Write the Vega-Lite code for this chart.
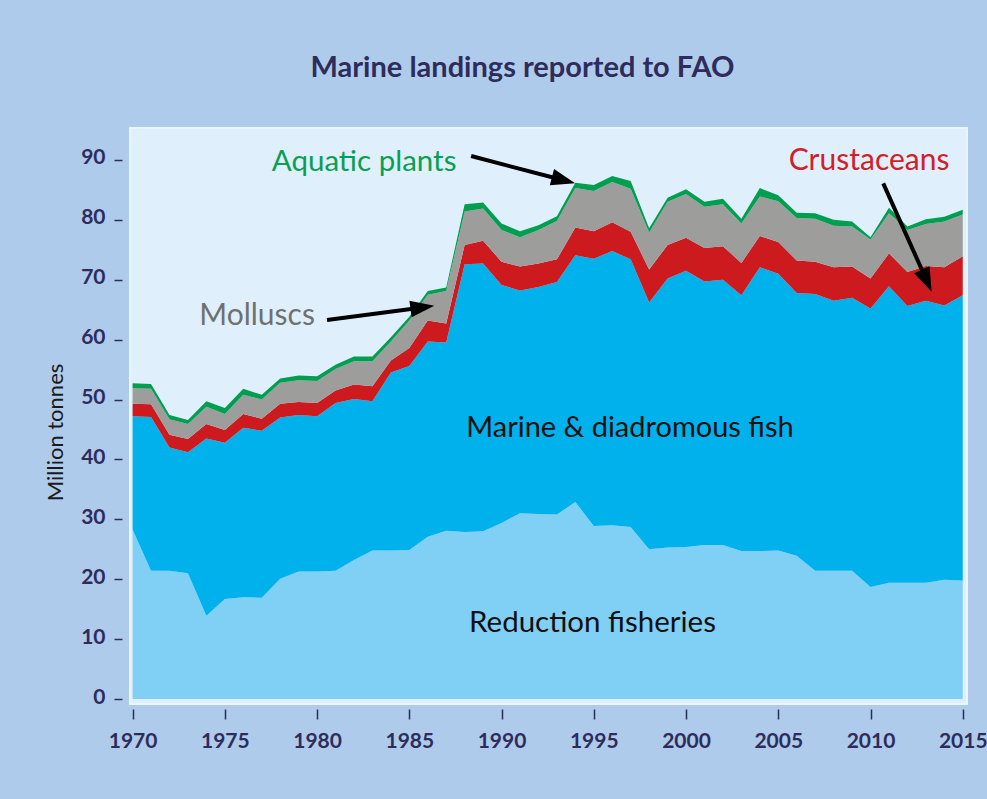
{
  "$schema": "https://vega.github.io/schema/vega-lite/v6.json",
  "width": 837,
  "height": 576,
  "autosize": {"type": "none"},
  "padding": {"left": 130, "top": 128, "right": 20, "bottom": 95},
  "background": "#afcbeb",
  "title": {
    "text": "Marine landings reported to FAO",
    "font": "Lato",
    "fontSize": 29,
    "fontWeight": "bold",
    "color": "#2e2c5b",
    "offset": 45,
    "dx": -26,
    "anchor": "middle"
  },
  "config": {
    "view": {"fill": "#dff0fc", "stroke": "#e9f6fd", "strokeWidth": 2},
    "axis": {"grid": false, "domain": false}
  },
  "layer": [
    {
      "data": {
        "values": [
          {"year": 1970, "Reduction fisheries": 28.3, "Marine & diadromous fish": 18.9, "Crustaceans": 2.1, "Molluscs": 2.6, "Aquatic plants": 0.8},
          {"year": 1971, "Reduction fisheries": 21.4, "Marine & diadromous fish": 25.7, "Crustaceans": 2.1, "Molluscs": 2.6, "Aquatic plants": 0.8},
          {"year": 1972, "Reduction fisheries": 21.4, "Marine & diadromous fish": 20.6, "Crustaceans": 2.1, "Molluscs": 2.6, "Aquatic plants": 0.7},
          {"year": 1973, "Reduction fisheries": 21.0, "Marine & diadromous fish": 20.2, "Crustaceans": 2.2, "Molluscs": 2.5, "Aquatic plants": 0.7},
          {"year": 1974, "Reduction fisheries": 13.9, "Marine & diadromous fish": 29.6, "Crustaceans": 2.4, "Molluscs": 2.9, "Aquatic plants": 0.9},
          {"year": 1975, "Reduction fisheries": 16.7, "Marine & diadromous fish": 26.1, "Crustaceans": 2.1, "Molluscs": 2.7, "Aquatic plants": 1.0},
          {"year": 1976, "Reduction fisheries": 17.0, "Marine & diadromous fish": 28.3, "Crustaceans": 2.3, "Molluscs": 3.2, "Aquatic plants": 1.0},
          {"year": 1977, "Reduction fisheries": 16.9, "Marine & diadromous fish": 27.9, "Crustaceans": 2.0, "Molluscs": 3.2, "Aquatic plants": 0.8},
          {"year": 1978, "Reduction fisheries": 20.1, "Marine & diadromous fish": 26.9, "Crustaceans": 2.3, "Molluscs": 3.5, "Aquatic plants": 0.7},
          {"year": 1979, "Reduction fisheries": 21.3, "Marine & diadromous fish": 26.1, "Crustaceans": 2.2, "Molluscs": 3.6, "Aquatic plants": 0.8},
          {"year": 1980, "Reduction fisheries": 21.3, "Marine & diadromous fish": 25.9, "Crustaceans": 2.2, "Molluscs": 3.7, "Aquatic plants": 0.8},
          {"year": 1981, "Reduction fisheries": 21.4, "Marine & diadromous fish": 28.0, "Crustaceans": 2.1, "Molluscs": 3.6, "Aquatic plants": 0.7},
          {"year": 1982, "Reduction fisheries": 23.2, "Marine & diadromous fish": 26.9, "Crustaceans": 2.4, "Molluscs": 3.9, "Aquatic plants": 0.8},
          {"year": 1983, "Reduction fisheries": 24.8, "Marine & diadromous fish": 24.9, "Crustaceans": 2.5, "Molluscs": 4.2, "Aquatic plants": 0.8},
          {"year": 1984, "Reduction fisheries": 24.8, "Marine & diadromous fish": 29.7, "Crustaceans": 2.0, "Molluscs": 3.2, "Aquatic plants": 0.7},
          {"year": 1985, "Reduction fisheries": 24.9, "Marine & diadromous fish": 30.7, "Crustaceans": 3.0, "Molluscs": 4.6, "Aquatic plants": 0.6},
          {"year": 1986, "Reduction fisheries": 27.1, "Marine & diadromous fish": 32.6, "Crustaceans": 3.5, "Molluscs": 4.3, "Aquatic plants": 0.6},
          {"year": 1987, "Reduction fisheries": 28.1, "Marine & diadromous fish": 31.4, "Crustaceans": 3.2, "Molluscs": 5.4, "Aquatic plants": 0.6},
          {"year": 1988, "Reduction fisheries": 27.9, "Marine & diadromous fish": 44.7, "Crustaceans": 3.2, "Molluscs": 5.6, "Aquatic plants": 1.2},
          {"year": 1989, "Reduction fisheries": 28.0, "Marine & diadromous fish": 44.7, "Crustaceans": 3.8, "Molluscs": 5.4, "Aquatic plants": 1.0},
          {"year": 1990, "Reduction fisheries": 29.4, "Marine & diadromous fish": 39.7, "Crustaceans": 3.9, "Molluscs": 5.3, "Aquatic plants": 1.1},
          {"year": 1991, "Reduction fisheries": 31.0, "Marine & diadromous fish": 37.2, "Crustaceans": 4.0, "Molluscs": 4.9, "Aquatic plants": 1.0},
          {"year": 1992, "Reduction fisheries": 30.9, "Marine & diadromous fish": 37.9, "Crustaceans": 3.9, "Molluscs": 5.6, "Aquatic plants": 0.8},
          {"year": 1993, "Reduction fisheries": 30.8, "Marine & diadromous fish": 38.8, "Crustaceans": 3.8, "Molluscs": 6.4, "Aquatic plants": 0.8},
          {"year": 1994, "Reduction fisheries": 32.9, "Marine & diadromous fish": 41.2, "Crustaceans": 4.6, "Molluscs": 6.6, "Aquatic plants": 0.9},
          {"year": 1995, "Reduction fisheries": 28.9, "Marine & diadromous fish": 44.6, "Crustaceans": 4.6, "Molluscs": 6.7, "Aquatic plants": 1.0},
          {"year": 1996, "Reduction fisheries": 29.0, "Marine & diadromous fish": 45.8, "Crustaceans": 4.8, "Molluscs": 6.7, "Aquatic plants": 1.0},
          {"year": 1997, "Reduction fisheries": 28.7, "Marine & diadromous fish": 44.7, "Crustaceans": 4.6, "Molluscs": 7.2, "Aquatic plants": 1.3},
          {"year": 1998, "Reduction fisheries": 25.0, "Marine & diadromous fish": 41.2, "Crustaceans": 5.5, "Molluscs": 6.2, "Aquatic plants": 0.7},
          {"year": 1999, "Reduction fisheries": 25.3, "Marine & diadromous fish": 44.9, "Crustaceans": 5.6, "Molluscs": 7.2, "Aquatic plants": 0.7},
          {"year": 2000, "Reduction fisheries": 25.4, "Marine & diadromous fish": 46.1, "Crustaceans": 5.5, "Molluscs": 7.3, "Aquatic plants": 0.8},
          {"year": 2001, "Reduction fisheries": 25.7, "Marine & diadromous fish": 44.0, "Crustaceans": 5.6, "Molluscs": 6.9, "Aquatic plants": 0.8},
          {"year": 2002, "Reduction fisheries": 25.7, "Marine & diadromous fish": 44.3, "Crustaceans": 5.6, "Molluscs": 7.0, "Aquatic plants": 0.9},
          {"year": 2003, "Reduction fisheries": 24.7, "Marine & diadromous fish": 42.7, "Crustaceans": 5.4, "Molluscs": 6.6, "Aquatic plants": 0.8},
          {"year": 2004, "Reduction fisheries": 24.7, "Marine & diadromous fish": 47.4, "Crustaceans": 5.2, "Molluscs": 6.6, "Aquatic plants": 1.4},
          {"year": 2005, "Reduction fisheries": 24.8, "Marine & diadromous fish": 46.2, "Crustaceans": 5.3, "Molluscs": 6.8, "Aquatic plants": 1.0},
          {"year": 2006, "Reduction fisheries": 23.9, "Marine & diadromous fish": 43.9, "Crustaceans": 5.4, "Molluscs": 7.1, "Aquatic plants": 0.9},
          {"year": 2007, "Reduction fisheries": 21.4, "Marine & diadromous fish": 46.2, "Crustaceans": 5.4, "Molluscs": 7.2, "Aquatic plants": 0.9},
          {"year": 2008, "Reduction fisheries": 21.4, "Marine & diadromous fish": 45.1, "Crustaceans": 5.6, "Molluscs": 6.9, "Aquatic plants": 1.0},
          {"year": 2009, "Reduction fisheries": 21.4, "Marine & diadromous fish": 45.6, "Crustaceans": 5.2, "Molluscs": 6.7, "Aquatic plants": 0.8},
          {"year": 2010, "Reduction fisheries": 18.7, "Marine & diadromous fish": 46.5, "Crustaceans": 5.0, "Molluscs": 6.5, "Aquatic plants": 0.4},
          {"year": 2011, "Reduction fisheries": 19.4, "Marine & diadromous fish": 49.5, "Crustaceans": 5.5, "Molluscs": 6.7, "Aquatic plants": 0.9},
          {"year": 2012, "Reduction fisheries": 19.4, "Marine & diadromous fish": 46.2, "Crustaceans": 5.7, "Molluscs": 7.0, "Aquatic plants": 0.6},
          {"year": 2013, "Reduction fisheries": 19.4, "Marine & diadromous fish": 47.1, "Crustaceans": 5.8, "Molluscs": 7.0, "Aquatic plants": 0.8},
          {"year": 2014, "Reduction fisheries": 19.9, "Marine & diadromous fish": 45.8, "Crustaceans": 6.4, "Molluscs": 7.6, "Aquatic plants": 0.8},
          {"year": 2015, "Reduction fisheries": 19.8, "Marine & diadromous fish": 47.6, "Crustaceans": 6.5, "Molluscs": 7.0, "Aquatic plants": 0.8}
        ]
      },
      "transform": [
        {"fold": ["Reduction fisheries", "Marine & diadromous fish", "Crustaceans", "Molluscs", "Aquatic plants"], "as": ["category", "mt"]},
        {"calculate": "indexof(['Reduction fisheries', 'Marine & diadromous fish', 'Crustaceans', 'Molluscs', 'Aquatic plants'], datum.category)", "as": "rank"}
      ],
      "mark": {"type": "area", "interpolate": "linear", "opacity": 1},
      "encoding": {
        "x": {
          "field": "year",
          "type": "quantitative",
          "scale": {"domain": [1969.86, 2015.23], "nice": false, "zero": false},
          "axis": {
            "values": [1970, 1975, 1980, 1985, 1990, 1995, 2000, 2005, 2010, 2015],
            "format": "d",
            "title": null,
            "offset": 5,
            "tickSize": 10,
            "tickWidth": 1.5,
            "tickColor": "#2e2c5b",
            "labelFont": "Lato",
            "labelFontSize": 21,
            "labelFontWeight": "bold",
            "labelColor": "#2e2c5b",
            "labelPadding": 11
          }
        },
        "y": {
          "field": "mt",
          "type": "quantitative",
          "stack": "zero",
          "scale": {"domain": [-0.83, 95.33], "nice": false, "zero": false},
          "axis": {
            "values": [0, 10, 20, 30, 40, 50, 60, 70, 80, 90],
            "title": "Million tonnes",
            "titleFont": "Lato",
            "titleFontSize": 22,
            "titleFontWeight": "normal",
            "titleColor": "#1a1a1a",
            "titleX": -55,
            "titleY": 304,
            "offset": 8,
            "tickSize": 8,
            "tickWidth": 1.5,
            "tickColor": "#2e2c5b",
            "labelFont": "Lato",
            "labelFontSize": 21,
            "labelFontWeight": "bold",
            "labelColor": "#2e2c5b",
            "labelPadding": 9,
            "labelBaseline": "middle",
            "labelOffset": -2
          }
        },
        "color": {
          "field": "category",
          "type": "nominal",
          "scale": {
            "domain": ["Reduction fisheries", "Marine & diadromous fish", "Crustaceans", "Molluscs", "Aquatic plants"],
            "range": ["#80cff4", "#00b1eb", "#cc1a1f", "#9d9d9b", "#009f50"]
          },
          "legend": null
        },
        "order": {"field": "rank", "type": "quantitative", "sort": "ascending"}
      }
    },
    {
      "data": {"values": [{}]},
      "mark": {"type": "text", "text": "Marine & diadromous fish", "font": "Lato", "fontSize": 29, "color": "#111111", "align": "center", "baseline": "alphabetic"},
      "encoding": {"x": {"datum": 1996.96}, "y": {"datum": 43.74}}
    },
    {
      "data": {"values": [{}]},
      "mark": {"type": "text", "text": "Reduction fisheries", "font": "Lato", "fontSize": 29.5, "color": "#111111", "align": "center", "baseline": "alphabetic"},
      "encoding": {"x": {"datum": 1994.93}, "y": {"datum": 11.24}}
    },
    {
      "data": {"values": [{}]},
      "mark": {"type": "text", "text": "Aquatic plants", "font": "Lato", "fontSize": 29.5, "color": "#0a9e52", "align": "center", "baseline": "alphabetic"},
      "encoding": {"x": {"datum": 1982.55}, "y": {"datum": 88.2}}
    },
    {
      "data": {"values": [{}]},
      "mark": {"type": "text", "text": "Molluscs", "font": "Lato", "fontSize": 30, "color": "#707070", "align": "center", "baseline": "alphabetic"},
      "encoding": {"x": {"datum": 1976.75}, "y": {"datum": 62.44}}
    },
    {
      "data": {"values": [{}]},
      "mark": {"type": "text", "text": "Crustaceans", "font": "Lato", "fontSize": 30, "color": "#d2202a", "align": "center", "baseline": "alphabetic"},
      "encoding": {"x": {"datum": 2009.92}, "y": {"datum": 88.31}}
    },
    {
      "data": {"values": [{}]},
      "mark": {"type": "rule", "strokeWidth": 4, "color": "#000000"},
      "encoding": {"x": {"datum": 1988.35}, "y": {"datum": 90.65}, "x2": {"datum": 1993.36}, "y2": {"datum": 86.6}}
    },
    {
      "data": {"values": [{}]},
      "mark": {"type": "point", "shape": "M0,-1L0.7,1L-0.7,1Z", "filled": true, "color": "#000000", "opacity": 1, "size": 576, "angle": 104.7},
      "encoding": {"x": {"datum": 1993.36}, "y": {"datum": 86.6}}
    },
    {
      "data": {"values": [{}]},
      "mark": {"type": "rule", "strokeWidth": 4, "color": "#000000"},
      "encoding": {"x": {"datum": 1980.54}, "y": {"datum": 63.27}, "x2": {"datum": 1985.71}, "y2": {"datum": 65.38}}
    },
    {
      "data": {"values": [{}]},
      "mark": {"type": "point", "shape": "M0,-1L0.7,1L-0.7,1Z", "filled": true, "color": "#000000", "opacity": 1, "size": 576, "angle": 82.5},
      "encoding": {"x": {"datum": 1985.71}, "y": {"datum": 65.38}}
    },
    {
      "data": {"values": [{}]},
      "mark": {"type": "rule", "strokeWidth": 4, "color": "#000000"},
      "encoding": {"x": {"datum": 2010.69}, "y": {"datum": 86.09}, "x2": {"datum": 2013.05}, "y2": {"datum": 69.83}}
    },
    {
      "data": {"values": [{}]},
      "mark": {"type": "point", "shape": "M0,-1L0.7,1L-0.7,1Z", "filled": true, "color": "#000000", "opacity": 1, "size": 576, "angle": 155.9},
      "encoding": {"x": {"datum": 2013.05}, "y": {"datum": 69.83}}
    }
  ]
}
